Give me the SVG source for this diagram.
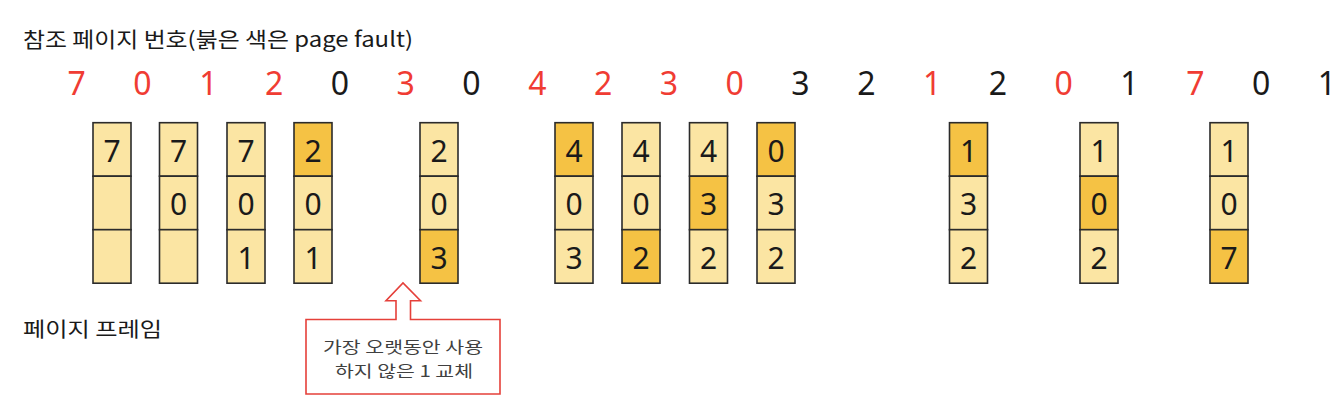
<svg xmlns="http://www.w3.org/2000/svg" width="1344" height="410" viewBox="0 0 1344 410">
<style>
.lbl{font-family:"Noto Sans CJK KR","Noto Sans",sans-serif;fill:#1a1a1a}
.ref{font-family:"Noto Sans","Noto Sans CJK KR",sans-serif;font-size:32px;text-anchor:middle;fill:#1a1a1a}
.ref.f{fill:#f03c33}
.cell{fill:#fbe5a3;stroke:#2b2b2b;stroke-width:1.6}
.cell.h{fill:#f5c244}
.d{font-family:"Noto Sans","Noto Sans CJK KR",sans-serif;font-size:30px;text-anchor:middle;fill:#1a1a1a}
.call{fill:#ffffff;stroke:#e5403a;stroke-width:1.6;stroke-linejoin:miter}
.ct{font-family:"Noto Sans CJK KR","Noto Sans",sans-serif;font-size:16px;text-anchor:middle;fill:#404040}
</style>
<rect width="1344" height="410" fill="#ffffff"/>
<g id="title"><text class="lbl" x="23" y="47" font-size="21" textLength="390" lengthAdjust="spacingAndGlyphs">참조 페이지 번호(붉은 색은 page fault)</text></g>
<g id="refs">
<text class="ref f" x="76.7" y="95">7</text>
<text class="ref f" x="142.5" y="95">0</text>
<text class="ref f" x="208.3" y="95">1</text>
<text class="ref f" x="274.1" y="95">2</text>
<text class="ref" x="339.9" y="95">0</text>
<text class="ref f" x="405.7" y="95">3</text>
<text class="ref" x="471.5" y="95">0</text>
<text class="ref f" x="537.3" y="95">4</text>
<text class="ref f" x="603.1" y="95">2</text>
<text class="ref f" x="668.9" y="95">3</text>
<text class="ref f" x="734.7" y="95">0</text>
<text class="ref" x="800.5" y="95">3</text>
<text class="ref" x="866.3" y="95">2</text>
<text class="ref f" x="932.1" y="95">1</text>
<text class="ref" x="997.9" y="95">2</text>
<text class="ref f" x="1063.7" y="95">0</text>
<text class="ref" x="1129.5" y="95">1</text>
<text class="ref f" x="1195.3" y="95">7</text>
<text class="ref" x="1261.1" y="95">0</text>
<text class="ref" x="1326.9" y="95">1</text>
</g>
<g id="frameLabel"><text class="lbl" x="23" y="337" font-size="20" textLength="139" lengthAdjust="spacingAndGlyphs">페이지 프레임</text></g>

<g id="f1">
<rect class="cell" x="93" y="122.7" width="38" height="53.5"/><rect class="cell" x="93" y="176.2" width="38" height="53.5"/><rect class="cell" x="93" y="229.7" width="38" height="53.5"/>
<text class="d" x="112" y="161.5">7</text>
</g>
<g id="f2">
<rect class="cell" x="159.5" y="122.7" width="38" height="53.5"/><rect class="cell" x="159.5" y="176.2" width="38" height="53.5"/><rect class="cell" x="159.5" y="229.7" width="38" height="53.5"/>
<text class="d" x="178.5" y="161.5">7</text><text class="d" x="178.5" y="215">0</text>
</g>
<g id="f3">
<rect class="cell" x="227" y="122.7" width="38" height="53.5"/><rect class="cell" x="227" y="176.2" width="38" height="53.5"/><rect class="cell" x="227" y="229.7" width="38" height="53.5"/>
<text class="d" x="246" y="161.5">7</text><text class="d" x="246" y="215">0</text><text class="d" x="246" y="268.5">1</text>
</g>
<g id="f4">
<rect class="cell h" x="294" y="122.7" width="38" height="53.5"/><rect class="cell" x="294" y="176.2" width="38" height="53.5"/><rect class="cell" x="294" y="229.7" width="38" height="53.5"/>
<text class="d" x="313" y="161.5">2</text><text class="d" x="313" y="215">0</text><text class="d" x="313" y="268.5">1</text>
</g>
<g id="f5">
<rect class="cell" x="420" y="122.7" width="38" height="53.5"/><rect class="cell" x="420" y="176.2" width="38" height="53.5"/><rect class="cell h" x="420" y="229.7" width="38" height="53.5"/>
<text class="d" x="439" y="161.5">2</text><text class="d" x="439" y="215">0</text><text class="d" x="439" y="268.5">3</text>
</g>
<g id="f6">
<rect class="cell h" x="555" y="122.7" width="38" height="53.5"/><rect class="cell" x="555" y="176.2" width="38" height="53.5"/><rect class="cell" x="555" y="229.7" width="38" height="53.5"/>
<text class="d" x="574" y="161.5">4</text><text class="d" x="574" y="215">0</text><text class="d" x="574" y="268.5">3</text>
</g>
<g id="f7">
<rect class="cell" x="622" y="122.7" width="38" height="53.5"/><rect class="cell" x="622" y="176.2" width="38" height="53.5"/><rect class="cell h" x="622" y="229.7" width="38" height="53.5"/>
<text class="d" x="641" y="161.5">4</text><text class="d" x="641" y="215">0</text><text class="d" x="641" y="268.5">2</text>
</g>
<g id="f8">
<rect class="cell" x="689.5" y="122.7" width="38" height="53.5"/><rect class="cell h" x="689.5" y="176.2" width="38" height="53.5"/><rect class="cell" x="689.5" y="229.7" width="38" height="53.5"/>
<text class="d" x="708.5" y="161.5">4</text><text class="d" x="708.5" y="215">3</text><text class="d" x="708.5" y="268.5">2</text>
</g>
<g id="f9">
<rect class="cell h" x="757" y="122.7" width="38" height="53.5"/><rect class="cell" x="757" y="176.2" width="38" height="53.5"/><rect class="cell" x="757" y="229.7" width="38" height="53.5"/>
<text class="d" x="776" y="161.5">0</text><text class="d" x="776" y="215">3</text><text class="d" x="776" y="268.5">2</text>
</g>
<g id="f10">
<rect class="cell h" x="949.5" y="122.7" width="38" height="53.5"/><rect class="cell" x="949.5" y="176.2" width="38" height="53.5"/><rect class="cell" x="949.5" y="229.7" width="38" height="53.5"/>
<text class="d" x="968.5" y="161.5">1</text><text class="d" x="968.5" y="215">3</text><text class="d" x="968.5" y="268.5">2</text>
</g>
<g id="f11">
<rect class="cell" x="1080" y="122.7" width="38" height="53.5"/><rect class="cell h" x="1080" y="176.2" width="38" height="53.5"/><rect class="cell" x="1080" y="229.7" width="38" height="53.5"/>
<text class="d" x="1099" y="161.5">1</text><text class="d" x="1099" y="215">0</text><text class="d" x="1099" y="268.5">2</text>
</g>
<g id="f12">
<rect class="cell" x="1210" y="122.7" width="38" height="53.5"/><rect class="cell" x="1210" y="176.2" width="38" height="53.5"/><rect class="cell h" x="1210" y="229.7" width="38" height="53.5"/>
<text class="d" x="1229" y="161.5">1</text><text class="d" x="1229" y="215">0</text><text class="d" x="1229" y="268.5">7</text>
</g>

<g id="callout">
<path class="call" d="M306,319.5 L396,319.5 L396,300.7 L386,300.7 L403,283 L420.5,300.7 L410.5,300.7 L410.5,319.5 L500,319.5 L500,394 L306,394 Z"/>
<text class="ct" x="403" y="353" textLength="160" lengthAdjust="spacingAndGlyphs">가장 오랫동안 사용</text>
<text class="ct" x="404" y="376.5" textLength="138" lengthAdjust="spacingAndGlyphs">하지 않은 1 교체</text>
</g>
</svg>
